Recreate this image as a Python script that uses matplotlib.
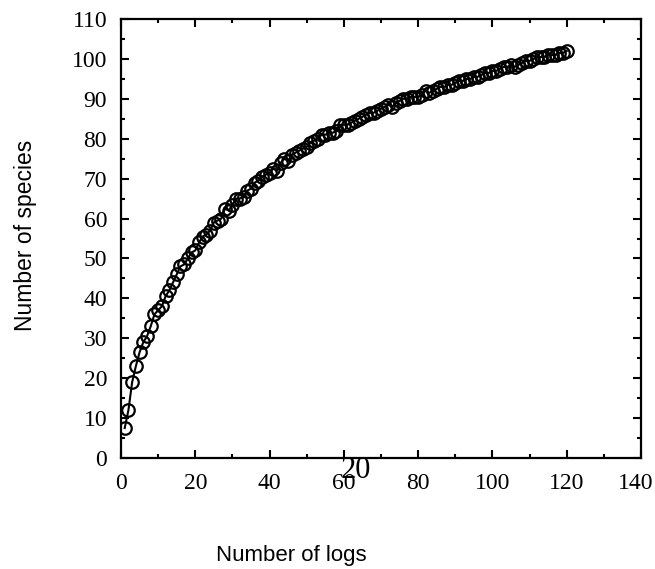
import matplotlib
matplotlib.use("Agg")
import matplotlib.pyplot as plt
from matplotlib.ticker import MultipleLocator
from matplotlib.transforms import ScaledTranslation

# species accumulation curve, one value per log
n_logs = list(range(1, 121))
n_species = [
    7.5, 12, 19, 23, 26.5, 29, 30.5, 33, 36, 37,
    38, 40.5, 42, 44, 46, 48, 48.5, 50, 51.5, 52,
    54, 55.5, 56, 57, 59, 59.5, 60, 62.5, 62, 63.5,
    65, 65, 65.5, 67, 67.5, 69, 69.5, 70.5, 71, 71.5,
    72.5, 72, 74, 75, 74.5, 76, 76.5, 77, 77.5, 78,
    79, 79.5, 80, 81, 81, 81.5, 81.5, 82, 83.5, 83.5,
    83.5, 84, 84.5, 85, 85.5, 86, 86.5, 86.5, 87, 87.5,
    88, 88.5, 88, 89, 89.5, 90, 90, 90.5, 90.5, 90.5,
    91, 92, 91.5, 92, 92.5, 93, 93, 93.5, 93.5, 94,
    94.5, 94.5, 95, 95, 95.5, 95.5, 96, 96.5, 96.5, 97,
    97, 97.5, 98, 98, 98.5, 98, 98.5, 99, 99.5, 99.5,
    100, 100.5, 100.5, 100.5, 101, 101, 101, 101.5, 101.5, 102,
]
x_ticks = list(range(0, 141, 20))
y_ticks = list(range(0, 111, 10))

fig = plt.figure(figsize=(6.55, 5.69), dpi=100)
ax = fig.add_axes([121 / 655, 1 - 458 / 569, 520 / 655, 439 / 569])

ax.plot(n_logs, n_species, color="black", lw=1.5, marker="o", ms=9,
        mfc="none", mec="black", mew=1.6)

ax.set_xlim(0, 140)
ax.set_ylim(0, 110)
ax.set_xticks(x_ticks)
ax.set_yticks(y_ticks)
ax.xaxis.set_minor_locator(MultipleLocator(10))
ax.yaxis.set_minor_locator(MultipleLocator(5))
ax.tick_params(which="both", direction="in", top=True, right=True, width=1.5,
               labelsize=17)
ax.tick_params(axis="x", pad=11)
ax.tick_params(axis="y", pad=10)
ax.tick_params(which="major", length=6)
ax.tick_params(which="minor", length=3)
for lab in ax.get_xticklabels() + ax.get_yticklabels():
    lab.set_family("Liberation Serif")
# nudge the last x label so it stays on the canvas
last = ax.get_xticklabels()[-1]
last.set_transform(last.get_transform() + ScaledTranslation(-4 / 72, 0, fig.dpi_scale_trans))
for s in ax.spines.values():
    s.set_linewidth(1.6)

fig.text(291 / 655, 1 - 555 / 569, "Number of logs", ha="center", va="center",
         family="Liberation Sans", fontsize=16)
fig.text(26 / 655, 1 - 235 / 569, "Number of species", ha="center", va="center",
         rotation=90, family="Liberation Sans", fontsize=16.5)
# stray page number sitting over the axis labels
fig.text(356 / 655, 1 - 470 / 569, "20", ha="center", va="center",
         family="Liberation Serif", fontsize=22)

fig.savefig("out.png", dpi=100)
